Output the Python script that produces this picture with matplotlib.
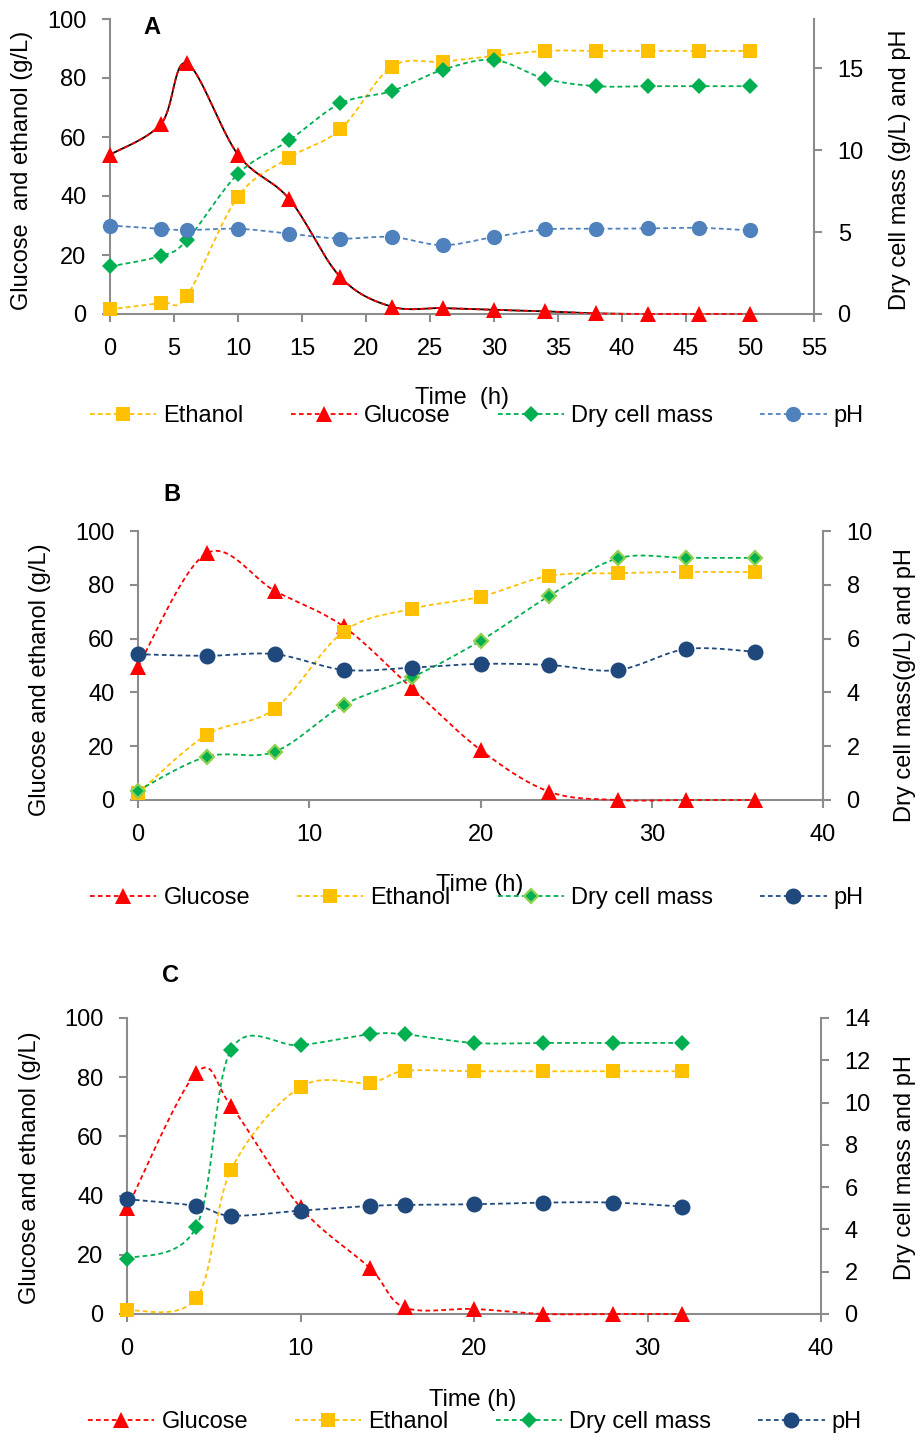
import numpy as np
import matplotlib
matplotlib.use("Agg")
import matplotlib.pyplot as plt
from matplotlib.lines import Line2D

plt.rcParams['font.family'] = ['Liberation Sans', 'DejaVu Sans']

# ---------------- data ----------------
# panel A
time_a = [0, 4, 6, 10, 14, 18, 22, 26, 30, 34, 38, 42, 46, 50]
glucose_a = [54, 64.5, 85, 54, 39, 12.5, 2.5, 2, 1.4, 0.9, 0.2, 0, 0, 0]
ethanol_a = [1.6, 3.8, 6.1, 39.8, 53, 62.6, 83.8, 85.5, 87.5, 89.2, 89.2, 89.2, 89.2, 89.2]
dcm_a = [2.9, 3.55, 4.5, 8.55, 10.6, 12.85, 13.6, 14.9, 15.5, 14.35, 13.9, 13.9, 13.9, 13.9]
ph_a = [5.4, 5.2, 5.12, 5.2, 4.9, 4.6, 4.7, 4.2, 4.7, 5.16, 5.2, 5.22, 5.26, 5.1]

# panel B
time_b = [0, 4, 8, 12, 16, 20, 24, 28, 32, 36]
glucose_b = [49.6, 91.7, 77.7, 64.5, 41.5, 18.6, 3.1, 0, 0, 0]
ethanol_b = [2.5, 24.2, 34, 62.6, 71.1, 75.6, 83.3, 84.3, 84.8, 84.7]
dcm_b = [0.35, 1.61, 1.8, 3.53, 4.56, 5.92, 7.58, 8.98, 9.0, 9.0]
ph_b = [5.42, 5.36, 5.42, 4.84, 4.92, 5.06, 5.02, 4.83, 5.61, 5.51]

# panel C
time_c = [0, 4, 6, 10, 14, 16, 20, 24, 28, 32]
glucose_c = [35.7, 81.5, 70.3, 36, 15.5, 2.2, 1.7, 0, 0, 0]
ethanol_c = [1.2, 5.4, 48.7, 76.7, 78.1, 82.1, 82, 82, 82, 82]
dcm_c = [2.61, 4.13, 12.5, 12.71, 13.23, 13.23, 12.82, 12.82, 12.82, 12.82]
ph_c = [5.43, 5.11, 4.65, 4.89, 5.11, 5.16, 5.19, 5.27, 5.27, 5.08]

W, H = 922, 1437
YELLOW = '#FFC000'
RED = '#FF0000'
GREEN = '#00B050'
LIGHTGREEN = '#92D050'
LIGHTBLUE = '#4F81BD'
NAVY = '#1F497D'
GREY = '#8C8C8C'
FS = 17
DASH = (0, (2.6, 1.8))

fig = plt.figure(figsize=(W / 100, H / 100), dpi=100)


def px_axes(x0, y0, x1, y1):
    # pixel box (top-left origin) -> figure axes
    return fig.add_axes([x0 / W, 1 - y1 / H, (x1 - x0) / W, (y1 - y0) / H])


def ftext(x, y, s, **kw):
    fig.text(x / W, 1 - y / H, s, fontsize=FS, ha='center', va='center', **kw)


def style(ax, ax2):
    for a in (ax, ax2):
        a.spines['top'].set_visible(False)
        for s in ('left', 'right', 'bottom'):
            a.spines[s].set_color(GREY)
            a.spines[s].set_linewidth(1.5)
        a.tick_params(direction='out', length=6, width=1.5, color=GREY,
                      labelsize=FS, pad=11)
    ax.spines['right'].set_visible(False)
    ax2.spines['left'].set_visible(False)
    ax2.spines['bottom'].set_visible(False)


def smooth(ax, x, y, n=30):
    # Excel-like smoothed line (Catmull-Rom bezier in screen space)
    pts = ax.transData.transform(np.column_stack([x, y]))
    P = np.vstack([pts[0], pts, pts[-1]])
    t = np.linspace(0, 1, n)[:, None]
    out = []
    for i in range(1, len(P) - 2):
        p0, p1, p2, p3 = P[i - 1], P[i], P[i + 1], P[i + 2]
        c1 = p1 + (p2 - p0) / 6
        c2 = p2 - (p3 - p1) / 6
        seg = (1 - t) ** 3 * p1 + 3 * (1 - t) ** 2 * t * c1 + 3 * (1 - t) * t ** 2 * c2 + t ** 3 * p2
        out.append(seg if i == 1 else seg[1:])
    d = ax.transData.inverted().transform(np.vstack(out))
    return d[:, 0], d[:, 1]


def series(ax, x, y, color, marker, ms, mec=None, mew=0, label=None, under=None):
    sx, sy = smooth(ax, x, y)
    if under:
        ax.plot(sx, sy, color=under, lw=1.3, zorder=2, clip_on=False)
    ax.plot(sx, sy, color=color, lw=1.3, ls=DASH, zorder=3, clip_on=False)
    ax.plot(x, y, ls='none', marker=marker, ms=ms, color=color,
            mec=mec if mec else color, mew=mew, zorder=4, clip_on=False)
    return Line2D([], [], color=color, lw=1.3, ls=DASH, marker=marker, ms=ms,
                  mec=mec if mec else color, mew=mew, label=label)


def legend(handles, y, x=477):
    fig.legend(handles=handles, loc='center', bbox_to_anchor=(x / W, 1 - y / H),
               ncol=4, frameon=False, fontsize=FS, handlelength=2.8,
               handletextpad=0.3, columnspacing=2.0, numpoints=1,
               borderpad=0, borderaxespad=0)


# ---------------- panel A ----------------
axA = px_axes(110, 19, 814, 314)
axA2 = axA.twinx()
axA.set_xlim(0, 55)
axA.set_ylim(0, 100)
axA2.set_ylim(0, 18)
axA.set_xticks(np.arange(0, 56, 5))
axA.set_yticks(np.arange(0, 101, 20))
axA2.set_yticks([0, 5, 10, 15])
style(axA, axA2)
hA = [
    series(axA, time_a, ethanol_a, YELLOW, 's', 10.5, label='Ethanol'),
    series(axA, time_a, glucose_a, RED, '^', 11, label='Glucose', under='black'),
    series(axA2, time_a, dcm_a, GREEN, 'D', 7.8, label='Dry cell mass'),
    series(axA2, time_a, ph_a, LIGHTBLUE, 'o', 11, label='pH'),
]
ftext(152, 28, 'A', fontweight='bold')
ftext(22, 170, 'Glucose  and ethanol (g/L)', rotation=90)
ftext(900, 170, 'Dry cell mass (g/L) and pH', rotation=90)
ftext(462, 398, 'Time  (h)')
legend(hA, 416)

# ---------------- panel B ----------------
axB = px_axes(138, 531, 823, 800)
axB2 = axB.twinx()
axB.set_xlim(0, 40)
axB.set_ylim(0, 100)
axB2.set_ylim(0, 10)
axB.set_xticks(np.arange(0, 41, 10))
axB.set_yticks(np.arange(0, 101, 20))
axB2.set_yticks(np.arange(0, 11, 2))
style(axB, axB2)
hB = [
    series(axB, time_b, glucose_b, RED, '^', 11, label='Glucose'),
    series(axB, time_b, ethanol_b, YELLOW, 's', 10.5, label='Ethanol'),
    series(axB2, time_b, dcm_b, GREEN, 'D', 6.8, mec=LIGHTGREEN, mew=1.6, label='Dry cell mass'),
    series(axB2, time_b, ph_b, NAVY, 'o', 11.5, label='pH'),
]
ftext(172, 494, 'B', fontweight='bold')
ftext(40, 680, 'Glucose and ethanol (g/L)', rotation=90)
ftext(905, 685, 'Dry cell mass(g/L) and pH', rotation=90)
ftext(480, 885, 'Time (h)')
legend(hB, 898)

# ---------------- panel C ----------------
axC = px_axes(127, 1018, 821, 1314)
axC2 = axC.twinx()
axC.set_xlim(0, 40)
axC.set_ylim(0, 100)
axC2.set_ylim(0, 14)
axC.set_xticks(np.arange(0, 41, 10))
axC.set_yticks(np.arange(0, 101, 20))
axC2.set_yticks(np.arange(0, 15, 2))
style(axC, axC2)
hC = [
    series(axC, time_c, glucose_c, RED, '^', 11, label='Glucose'),
    series(axC, time_c, ethanol_c, YELLOW, 's', 10.5, label='Ethanol'),
    series(axC2, time_c, dcm_c, GREEN, 'D', 7.8, label='Dry cell mass'),
    series(axC2, time_c, ph_c, NAVY, 'o', 11.5, label='pH'),
]
ftext(170, 976, 'C', fontweight='bold')
ftext(30, 1168, 'Glucose and ethanol (g/L)', rotation=90)
ftext(905, 1168, 'Dry cell mass and pH', rotation=90)
ftext(473, 1400, 'Time (h)')
legend(hC, 1422, x=475)

fig.savefig('out.png', dpi=100)
